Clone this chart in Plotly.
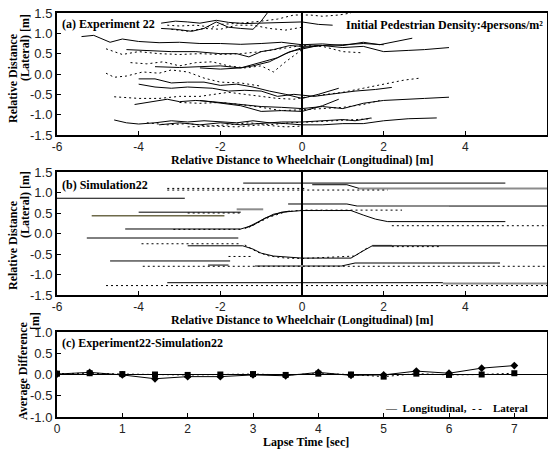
import plotly.graph_objects as go

# ---------------- data ----------------
# (a) Experiment 22 : solid trajectories [x list, y list]
exp_solid = [
    [[-3.45, -3.1, -2.8, -2.5, -2.1, -1.8, -1.4, -1.0, -0.5, 0.0, 0.4, 0.75],
     [1.25, 1.3, 1.28, 1.25, 1.32, 1.27, 1.24, 1.25, 1.27, 1.28, 1.22, 1.2]],
    [[-3.45, -3.1, -2.7, -2.4, -2.1, -1.8, -1.5, -1.2, -1.0, -0.85],
     [1.12, 1.1, 1.05, 1.12, 1.28, 1.15, 1.12, 1.1, 1.3, 1.5]],
    [[-5.4, -5.1, -4.7, -4.4, -4.0, -3.5, -3.0, -2.5, -2.0, -1.5, -1.0, -0.5, 0.0, 0.5, 1.0, 1.5, 1.9, 2.3, 2.7],
     [0.92, 0.95, 0.78, 0.86, 0.8, 0.77, 0.78, 0.75, 0.75, 0.73, 0.75, 0.78, 0.72, 0.74, 0.7, 0.78, 0.72, 0.8, 0.88]],
    [[-4.3, -3.8, -3.2, -2.6, -2.0, -1.6, -1.3, -1.0, -0.7, -0.3, 0.0, 0.5, 1.0, 1.5, 2.0, 2.6, 3.0, 3.6],
     [0.6, 0.58, 0.55, 0.55, 0.5, 0.5, 0.42, 0.55, 0.6, 0.7, 0.68, 0.7, 0.65, 0.68, 0.55, 0.58, 0.6, 0.65]],
    [[-3.6, -3.0, -2.5, -2.0, -1.5, -1.2, -0.8, -0.4, 0.0, 0.5, 1.0, 1.5, 2.0],
     [0.18, 0.16, 0.18, 0.2, 0.15, 0.2, 0.3, 0.5, 0.65, 0.7, 0.72, 0.75, 0.72]],
    [[-2.5, -2.0, -1.5, -1.0, -0.6, -0.3, 0.0, 0.4],
     [0.15, 0.12, 0.15, 0.28, 0.4, 0.55, 0.62, 0.7]],
    [[-4.0, -3.6, -3.2, -2.8, -2.4, -2.0, -1.6, -1.2, -0.8, -0.4, 0.0, 0.4, 0.9],
     [-0.12, -0.12, -0.22, -0.2, -0.2, -0.28, -0.25, -0.32, -0.42, -0.5, -0.6, -0.5, -0.35]],
    [[-4.0, -3.6, -3.2, -2.8, -2.2, -1.8, -1.4, -1.0, -0.6, -0.2, 0.3, 0.8, 1.3, 1.8, 2.2],
     [-0.25, -0.32, -0.35, -0.32, -0.35, -0.42, -0.4, -0.42, -0.55, -0.5, -0.55, -0.48, -0.42, -0.38, -0.33]],
    [[-4.1, -3.6, -3.3, -3.0, -2.6, -2.2, -1.8, -1.4, -1.0, -0.5, 0.0, 0.5, 1.0, 1.5, 2.0, 3.0, 3.6],
     [-0.75, -0.68, -0.62, -0.68, -0.65, -0.68, -0.72, -0.75, -0.8, -0.82, -0.85, -0.8, -0.85, -0.72, -0.65, -0.6, -0.57]],
    [[-2.5, -2.0, -1.5, -1.0, -0.5, 0.0, 0.5, 0.9],
     [-0.65, -0.72, -0.78, -0.92, -0.9, -0.92, -0.78, -0.62]],
    [[-4.6, -4.3, -4.0, -3.6, -3.2, -2.8, -2.4, -2.0, -1.6, -1.2, -0.8, -0.4, 0.0, 0.5, 1.0, 1.5, 2.0, 2.6, 3.3],
     [-1.13, -1.2, -1.23, -1.2, -1.15, -1.18, -1.15, -1.18, -1.2, -1.15, -1.2, -1.22, -1.25, -1.25, -1.22, -1.22, -1.15, -1.1, -1.08]],
    [[-3.5, -3.0, -2.5, -2.0, -1.5, -1.0, -0.5, 0.0, 0.5, 1.0, 1.3, 1.7],
     [-1.25, -1.2, -1.25, -1.2, -1.25, -1.22, -1.18, -1.18, -1.15, -1.12, -1.15, -1.08]],
]

# (a) Experiment 22 : dotted trajectories
exp_dotted = [
    [[-3.3, -3.0, -2.6, -2.2, -2.0, -1.5, -1.0, -0.6, -0.2, 0.2, 0.5, 0.9, 1.2],
     [1.2, 1.18, 1.2, 1.15, 1.22, 1.25, 1.3, 1.35, 1.45, 1.45, 1.42, 1.45, 1.5]],
    [[-3.2, -2.8, -2.4, -2.0, -1.6, -1.2, -0.8, -0.4, 0.0],
     [1.1, 1.05, 1.12, 1.1, 1.2, 1.2, 1.12, 1.08, 1.15]],
    [[-4.8, -4.6, -4.4, -4.0, -3.5, -3.0, -2.5, -2.0, -1.5, -1.0, -0.5, 0.0, 0.5, 1.0, 1.5],
     [0.62, 0.55, 0.48, 0.55, 0.5, 0.48, 0.5, 0.48, 0.5, 0.55, 0.62, 0.7, 0.68, 0.55, 0.52]],
    [[-4.2, -3.8, -3.4, -3.0, -2.6, -2.2, -1.8, -1.4, -1.0, -0.7, -0.4, 0.0],
     [0.28, 0.25, 0.3, 0.2, 0.28, 0.3, 0.2, 0.15, 0.2, 0.05, 0.3, 0.6]],
    [[-4.8, -4.6, -4.3, -3.9, -3.5, -3.2, -2.8, -2.4, -2.0, -1.5, -1.0],
     [0.02, -0.08, -0.05, 0.05, 0.02, 0.1, 0.05, -0.1, -0.2, -0.22, -0.3]],
    [[-4.6, -4.0, -3.5, -3.0, -2.5, -2.2, -1.8, -1.4, -1.0, -0.6, -0.2, 0.2, 0.6, 1.0, 1.5, 2.0, 2.5, 2.9],
     [-0.56, -0.6, -0.6, -0.55, -0.55, -0.5, -0.45, -0.5, -0.55, -0.6, -0.62, -0.55, -0.5, -0.45, -0.35, -0.25, -0.15, -0.1]],
    [[-3.0, -2.5, -2.0, -1.5, -1.0, -0.5, 0.0, 0.5, 1.0, 1.5, 1.9],
     [-0.7, -0.72, -0.7, -0.75, -0.82, -0.9, -0.88, -0.85, -0.82, -0.75, -0.65]],
    [[-3.8, -3.3, -2.8, -2.3, -1.8, -1.3, -0.8, -0.3, 0.2, 0.7, 1.2, 1.7],
     [-1.2, -1.25, -1.22, -1.28, -1.25, -1.2, -1.25, -1.2, -1.18, -1.15, -1.12, -1.1]],
    [[-2.8, -2.2, -1.6, -1.0, -0.4, 0.0],
     [-1.3, -1.28, -1.3, -1.25, -1.3, -1.28]],
]

# (b) Simulation22 : solid trajectories
sim_solid = [
    [[-6.0, -2.87], [0.86, 0.86]],
    [[-1.44, 4.98], [1.23, 1.23]],
    [[0.25, 1.1, 1.4], [1.19, 1.19, 1.1]],
    [[-4.0, -1.5], [0.52, 0.52]],
    [[-0.34, 1.1, 1.35], [0.72, 0.72, 0.67]],
    [[3.6, 6.0], [0.67, 0.67]],
    [[-4.33, -1.5, -1.2, -0.9, -0.5, 0.0, 0.5, 1.2, 1.5, 1.8, 2.1, 4.98],
     [0.11, 0.11, 0.2, 0.38, 0.52, 0.56, 0.56, 0.56, 0.45, 0.35, 0.29, 0.29]],
    [[-1.4, -1.0, -0.7, -0.3], [0.12, 0.32, 0.47, 0.55]],
    [[-5.27, -1.56], [-0.11, -0.11]],
    [[-2.8, -1.45, -1.2, -1.0, -0.7, -0.3, 0.0, 0.5, 1.2, 1.45, 1.72, 6.0],
     [-0.3, -0.3, -0.38, -0.48, -0.55, -0.58, -0.6, -0.6, -0.6, -0.45, -0.3, -0.3]],
    [[-4.7, -1.76], [-0.67, -0.67]],
    [[-2.3, -1.8], [-0.77, -0.77]],
    [[0.98, 1.3, 4.85], [-0.79, -0.72, -0.72]],
    [[-3.3, 3.45], [-1.2, -1.2]],
]

# (b) Simulation22 : dotted trajectories
sim_dotted = [
    [[-3.3, 0.1], [1.1, 1.1]],
    [[-3.3, 2.1], [1.06, 1.06]],
    [[-2.8, -1.5], [0.5, 0.5]],
    [[-1.3, -0.8, -0.4, 0.0, 1.2, 2.45], [0.15, 0.4, 0.53, 0.57, 0.57, 0.57]],
    [[2.2, 6.0], [0.19, 0.19]],
    [[-3.15, -1.5], [0.1, 0.1]],
    [[-3.93, -1.5], [-0.25, -0.25]],
    [[-1.4, -1.1, -0.8, -0.4, 0.0, 1.3, 1.6], [-0.28, -0.45, -0.55, -0.6, -0.61, -0.55, -0.35]],
    [[-1.8, -1.2], [-0.56, -0.56]],
    [[2.2, 3.4], [-0.32, -0.32]],
    [[-3.9, 6.0], [-0.8, -0.8]],
    [[-4.8, 6.0], [-1.27, -1.27]],
]

# (b) Simulation22 : grey overlapped segments
sim_grey = [
    [[1.4, 6.0], [1.1, 1.1]],
    [[-1.6, -0.95], [0.59, 0.59]],
    [[1.35, 3.6], [0.67, 0.67]],
    [[1.72, 2.2], [-0.3, -0.3]],
    [[-1.15, 0.98], [-0.79, -0.79]],
    [[3.45, 6.0], [-1.22, -1.22]],
]
sim_olive = [[[-5.15, -1.9], [0.43, 0.43]]]

# (c) Experiment22 - Simulation22
lapse_time = [0, 0.5, 1, 1.5, 2, 2.5, 3, 3.5, 4, 4.5, 5, 5.5, 6, 6.5, 7]
diff_longitudinal = [0.01, 0.05, -0.01, -0.1, -0.05, -0.05, -0.01, -0.03, 0.05, -0.02, -0.01, 0.08, 0.03, 0.15, 0.21]
diff_lateral = [0.02, 0.03, 0.01, 0.0, -0.01, 0.0, 0.01, -0.01, 0.02, 0.0, -0.05, 0.02, -0.01, 0.0, 0.03]

dist_ticks = [-6, -4, -2, 0, 2, 4, 6]
dist_ticktext = ["-6", "-4", "-2", "0", "2", "4", "6"]
lat_ticks = [-1.5, -1.0, -0.5, 0.0, 0.5, 1.0, 1.5]
lat_ticktext = ["-1.5", "-1.0", "-0.5", "0.0", "0.5", "1.0", "1.5"]
diff_ticks = [-1.0, -0.5, 0.0, 0.5, 1.0]
diff_ticktext = ["-1.0", "-0.5", "0.0", "0.5", "1.0"]
time_ticks = [0, 1, 2, 3, 4, 5, 6, 7]

# ---------------- figure ----------------
fig = go.Figure()
DOT = "2px,3px"

def add_group(group, xa, ya, color="black", width=1, dash="solid"):
    for xs, ys in group:
        fig.add_trace(go.Scatter(x=xs, y=ys, xaxis=xa, yaxis=ya, mode="lines",
                                 line=dict(color=color, width=width, dash=dash),
                                 showlegend=False, hoverinfo="skip"))

add_group(exp_dotted, "x", "y", dash=DOT)
add_group(exp_solid, "x", "y")
add_group(sim_grey, "x2", "y2", color="#8c8c8c", width=2)
add_group(sim_olive, "x2", "y2", color="#6e6a4a", width=1.5)
add_group(sim_dotted, "x2", "y2", dash=DOT)
add_group(sim_solid, "x2", "y2")

fig.add_trace(go.Scatter(x=lapse_time, y=diff_lateral, xaxis="x3", yaxis="y3",
                         mode="lines+markers", line=dict(color="black", width=1, dash=DOT),
                         marker=dict(symbol="square", size=6, color="black"),
                         showlegend=False))
fig.add_trace(go.Scatter(x=lapse_time, y=diff_longitudinal, xaxis="x3", yaxis="y3",
                         mode="lines+markers", line=dict(color="black", width=1),
                         marker=dict(symbol="diamond", size=6, color="black"),
                         showlegend=False))

tickfont = dict(family="Liberation Sans, Arial, sans-serif", size=13, color="#222")
xtickfont = dict(family="Liberation Sans, Arial, sans-serif", size=12, color="#222")
common = dict(showline=True, linecolor="black", linewidth=2, mirror=True,
              ticks="inside", ticklen=4, tickwidth=1, tickcolor="black",
              showgrid=False, automargin=False)

fig.update_layout(
    width=548, height=450,
    margin=dict(l=57, r=1, t=13, b=33),
    paper_bgcolor="white", plot_bgcolor="white",
    showlegend=False,
    xaxis=dict(domain=[0, 1], anchor="y", range=[-6, 6], tickvals=dist_ticks, ticktext=dist_ticktext,
               zeroline=True, zerolinecolor="black", zerolinewidth=1.5, tickfont=xtickfont, **common),
    yaxis=dict(domain=[0.698, 1.0], anchor="x", range=[-1.5, 1.5], tickvals=lat_ticks,
               ticktext=lat_ticktext, zeroline=False, tickfont=tickfont, **common),
    xaxis2=dict(domain=[0, 1], anchor="y2", range=[-6, 6], tickvals=dist_ticks, ticktext=dist_ticktext,
                zeroline=True, zerolinecolor="black", zerolinewidth=1.5, tickfont=xtickfont, **common),
    yaxis2=dict(domain=[0.302, 0.6064], anchor="x2", range=[-1.5, 1.5], tickvals=lat_ticks,
                ticktext=lat_ticktext, zeroline=False, tickfont=tickfont, **common),
    xaxis3=dict(domain=[0, 1], anchor="y3", range=[0, 7.5], tickvals=time_ticks,
                zeroline=False, tickfont=xtickfont, **common),
    yaxis3=dict(domain=[0, 0.2104], anchor="x3", range=[-1, 1], tickvals=diff_ticks,
                ticktext=diff_ticktext, zeroline=True, zerolinecolor="black", zerolinewidth=1,
                tickfont=tickfont, **common),
)

SERIF = "Liberation Serif, Times New Roman, serif"

def px2x(px):
    return (px - 57) / 490.0

def py2y(py):
    return (417 - py) / 404.0

def note(text, px, py, size=12, xanchor="center", angle=0):
    fig.add_annotation(text=text, xref="paper", yref="paper", x=px2x(px), y=py2y(py),
                       xanchor=xanchor, yanchor="middle", showarrow=False, textangle=angle,
                       font=dict(family=SERIF, size=size, color="black"))

note("<b>(a) Experiment 22</b>", 60, 24, xanchor="left")
note("<b>Initial Pedestrian Density:4persons/m²</b>", 545, 25, xanchor="right")
note("<b>(b) Simulation22</b>", 60, 185, xanchor="left")
note("<b>(c) Experiment22-Simulation22</b>", 60, 343, xanchor="left")
note("<b>Relative Distance to Wheelchair (Longitudinal) [m]</b>", 302, 160)
note("<b>Relative Distance to Wheelchair (Longitudinal) [m]</b>", 302, 320)
note("<b>Lapse Time [sec]</b>", 306, 442)
note("<b>Relative Distance</b>", 13, 78, angle=-90)
note("<b>(Lateral) [m]</b>", 25, 48, angle=-90)
note("<b>Relative Distance</b>", 13, 245, angle=-90)
note("<b>(Lateral) [m]</b>", 25, 205, angle=-90)
note("<b>Average Difference</b>", 23, 371, angle=-90)
note("<b>[m]</b>", 35, 321, angle=-90)
note("<b>—  Longitudinal,  - -    Lateral</b>", 456, 408, size=11)

fig.write_html("out.html", config={"displayModeBar": False},
               post_script="document.body.style.margin='0px';document.body.style.overflow='hidden';")
